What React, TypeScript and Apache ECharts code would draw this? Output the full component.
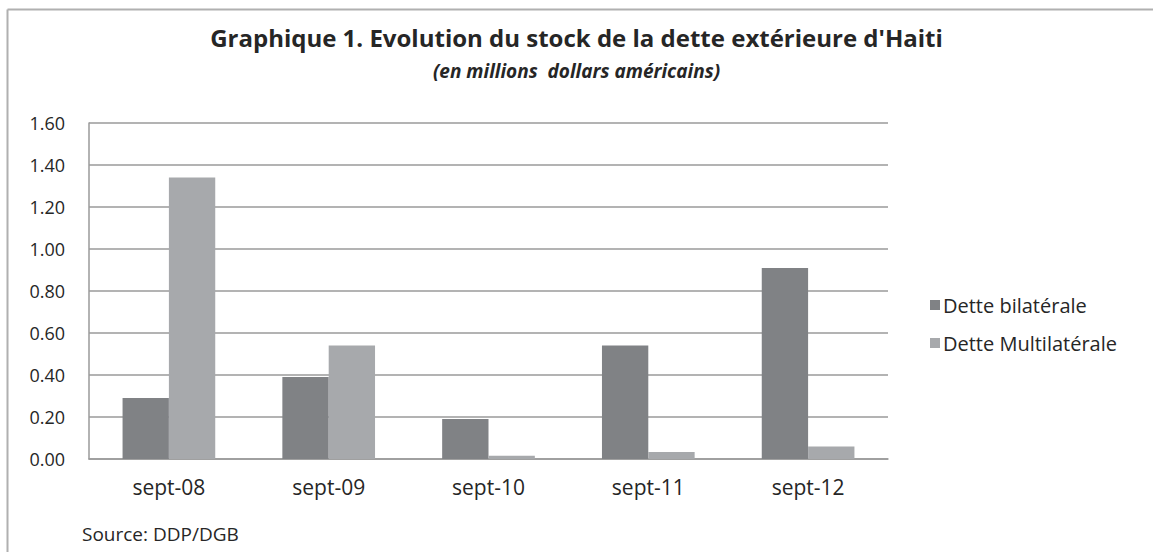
import React, { useEffect, useRef } from "react";
import * as echarts from "echarts";

const categories = ["sept-08", "sept-09", "sept-10", "sept-11", "sept-12"];
const bilaterale = [0.29, 0.39, 0.19, 0.54, 0.91];
const multilaterale = [1.34, 0.54, 0.015, 0.033, 0.06];
const seriesNames = ["Dette bilatérale", "Dette Multilatérale"];

export default function App() {
  const ref = useRef<HTMLDivElement>(null);
  useEffect(() => {
    if (!ref.current) return;
    const chart = echarts.init(ref.current, undefined, { renderer: "svg" });
    const font = "'Open Sans', 'Noto Sans', sans-serif";
    chart.setOption({
      animation: false,
      backgroundColor: "#ffffff",
      textStyle: { fontFamily: font },
      title: {
        text: "Graphique 1. Evolution du stock de la dette extérieure d'Haiti",
        subtext: "(en millions  dollars américains)",
        left: "center",
        top: 19,
        itemGap: 10,
        textStyle: { fontFamily: font, fontSize: 24, lineHeight: 26, fontWeight: "bold", color: "#262626" },
        subtextStyle: { fontFamily: font, fontSize: 19, lineHeight: 21, fontWeight: "bold", fontStyle: "italic", color: "#262626" },
      },
      legend: {
        orient: "vertical",
        left: 925,
        top: 290,
        itemWidth: 10,
        itemHeight: 10,
        itemGap: 18,
        icon: "rect",
        textStyle: { fontFamily: font, fontSize: 20, color: "#262626", padding: [0, 0, 0, -2] },
        data: seriesNames,
      },
      grid: { left: 89, right: 265, top: 123, bottom: 93, containLabel: false },
      xAxis: {
        type: "category",
        data: categories,
        axisLine: { lineStyle: { color: "#9a9a9a", width: 1.5 } },
        axisTick: { show: false },
        axisLabel: { fontFamily: font, fontSize: 21, color: "#262626", margin: 17 },
      },
      yAxis: {
        type: "value",
        min: 0,
        max: 1.6,
        interval: 0.2,
        axisLine: { show: true, lineStyle: { color: "#9a9a9a", width: 1.5 } },
        axisTick: { show: false },
        splitLine: { lineStyle: { color: "#9a9a9a", width: 1.5 } },
        axisLabel: {
          fontFamily: font,
          fontSize: 18,
          color: "#262626",
          margin: 24,
          formatter: (v: number) => v.toFixed(2),
        },
      },
      series: [
        {
          name: seriesNames[0],
          type: "bar",
          data: bilaterale,
          itemStyle: { color: "#808285" },
          barGap: "0%",
          barCategoryGap: "42%",
        },
        {
          name: seriesNames[1],
          type: "bar",
          data: multilaterale,
          itemStyle: { color: "#a7a9ac" },
          barGap: "0%",
          barCategoryGap: "42%",
        },
      ],
      graphic: [
        { type: "line", shape: { x1: 7.5, y1: 9.5, x2: 1153, y2: 9.5 }, style: { stroke: "#b0b0b0", lineWidth: 2 } },
        { type: "line", shape: { x1: 7.5, y1: 9.5, x2: 7.5, y2: 552 }, style: { stroke: "#b0b0b0", lineWidth: 2 } },
        {
          type: "text",
          left: 82,
          top: 524,
          style: { text: "Source: DDP/DGB", font: `19px ${font}`, fill: "#262626" },
        },
      ],
    });
    return () => chart.dispose();
  }, []);
  return (
    <div
      ref={ref}
      style={{ position: "fixed", left: 0, top: 0, width: 1153, height: 552 }}
    />
  );
}
